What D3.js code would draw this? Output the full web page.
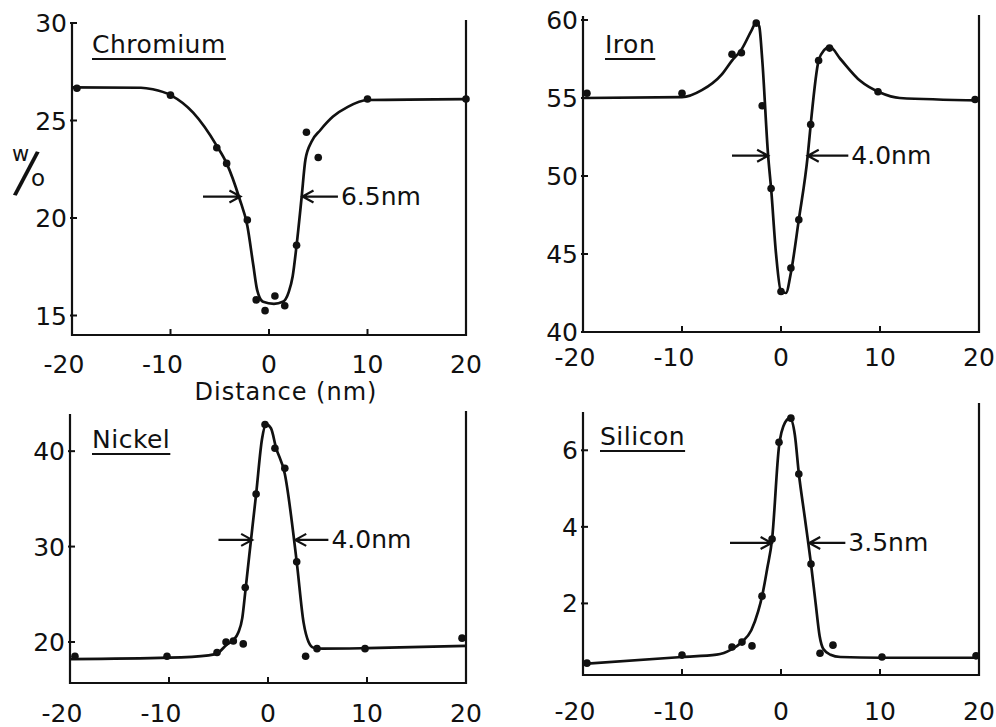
<!DOCTYPE html>
<html>
<head>
<meta charset="utf-8">
<script src="https://cdn.jsdelivr.net/npm/d3@7"></script>
<style>
  body { margin: 0; background: #fff; }
  svg { display: block; }
  text { font-family: "DejaVu Sans", sans-serif; fill: #111; }
</style>
</head>
<body>
<div id="chart"></div>
<script>
// x ticks shared by all four profiles (distance, nm)
const xTicks = [-20, -10, 0, 10, 20];

// Chromium
const crTicks = [15, 20, 25, 30];
const crDots = [[-19.5, 26.65], [-10, 26.3], [-5.3, 23.6], [-4.3, 22.8], [-2.2, 19.9], [-1.3, 15.8], [-0.4, 15.25],
  [0.6, 16.0], [1.6, 15.5], [2.8, 18.6], [3.8, 24.4], [5.0, 23.1], [10, 26.1], [20, 26.1]];
const crCurve = [[-20, 26.7], [-13, 26.68], [-11.8, 26.6], [-10, 26.3], [-7.7, 25.4], [-5.3, 23.7], [-4.3, 22.8],
  [-3, 21.0], [-2.2, 19.6], [-1.6, 17.6], [-1.2, 16.3], [-0.6, 15.7], [0.5, 15.6], [1.4, 15.7], [2.0, 16.2],
  [2.4, 17.0], [2.8, 18.6], [3.3, 21.0], [3.7, 23.0], [4.3, 23.9], [5.2, 24.5], [6.5, 25.2], [8, 25.7], [10, 26.05], [20, 26.1]];
const crWidth = { y: 21.1, left: [-6.7, -2.9], right: [3.4, 7.0], label: "6.5nm" };

// Iron
const feTicks = [40, 45, 50, 55, 60];
const feDots = [[-19.6, 55.3], [-10, 55.3], [-4.95, 57.8], [-4.0, 57.9], [-2.5, 59.8], [-1.9, 54.5], [-1.0, 49.2],
  [0, 42.6], [1.0, 44.1], [1.8, 47.2], [3.0, 53.3], [3.8, 57.4], [4.9, 58.2], [9.8, 55.4], [19.6, 54.9]];
const feCurve = [[-20, 55.0], [-10, 55.05], [-8, 55.5], [-6, 56.5], [-4.95, 57.4], [-4, 58.1], [-3, 59.3], [-2.5, 59.85],
  [-2.2, 59.6], [-1.9, 57.5], [-1.3, 51.3], [-1, 49.2], [-0.5, 45], [0, 42.6], [0.5, 42.5], [1, 43.8], [1.8, 47.2],
  [2.7, 51.3], [3, 53.3], [3.8, 57.4], [4.4, 58.1], [4.9, 58.3], [6, 57.5], [8, 56.1], [10, 55.35], [12, 55.0], [20, 54.85]];
const feWidth = { y: 51.3, left: [-4.95, -1.3], right: [2.7, 6.8], label: "4.0nm" };

// Nickel
const niTicks = [20, 30, 40];
const niDots = [[-19.5, 18.5], [-10.2, 18.5], [-5.15, 18.9], [-4.24, 20.0], [-3.5, 20.1], [-2.5, 19.8], [-2.3, 25.7],
  [-1.2, 35.5], [-0.3, 42.8], [0.7, 40.3], [1.7, 38.2], [2.9, 28.4], [3.8, 18.5], [4.95, 19.3], [9.8, 19.3], [19.6, 20.4]];
const niCurve = [[-20, 18.2], [-10, 18.35], [-6, 18.6], [-5, 18.9], [-4.2, 19.7], [-3.5, 20.2], [-3, 21], [-2.6, 22.5],
  [-2.3, 25.2], [-1.9, 29], [-1.2, 35.5], [-0.6, 41.3], [-0.2, 42.8], [0.3, 42.4], [0.8, 40.4], [1.7, 37.6],
  [2.9, 28.4], [3.6, 22], [4.1, 20], [4.6, 19.4], [5.5, 19.3], [10, 19.35], [20, 19.6]];
const niWidth = { y: 30.7, left: [-5.0, -1.6], right: [2.75, 6.1], label: "4.0nm" };

// Silicon
const siTicks = [2, 4, 6];
const siDots = [[-19.6, 0.44], [-10, 0.65], [-4.95, 0.86], [-3.94, 0.99], [-2.93, 0.89], [-1.92, 2.19], [-0.9, 3.68],
  [-0.2, 6.21], [1.0, 6.84], [1.8, 5.38], [3.03, 3.03], [3.94, 0.7], [5.25, 0.91], [10.2, 0.6], [19.7, 0.63]];
const siCurve = [[-20, 0.42], [-10, 0.6], [-6.5, 0.66], [-5, 0.8], [-4, 0.98], [-3, 1.3], [-2.3, 1.8], [-1.9, 2.2],
  [-1.4, 2.9], [-0.9, 3.68], [-0.2, 6.1], [0.4, 6.72], [0.9, 6.84], [1.4, 6.4], [1.8, 5.4], [2.4, 4.25], [3.03, 3.03],
  [3.5, 2.0], [3.9, 1.15], [4.3, 0.8], [5, 0.66], [6, 0.6], [10, 0.58], [20, 0.58]];
const siWidth = { y: 3.58, left: [-5.15, -0.95], right: [2.85, 6.5], label: "3.5nm" };

// panel layout (pixels)
const panels = [
  { name: "Chromium", ticks: crTicks, dots: crDots, curve: crCurve, fwhm: crWidth, domain: [14, 30],
    x: [72, 466], y: [335, 23], leftTop: 23, rightTop: 20, labelDy: 38, titleX: 92, titleY: 53 },
  { name: "Iron", ticks: feTicks, dots: feDots, curve: feCurve, fwhm: feWidth, domain: [40, 60],
    x: [583, 979], y: [332, 20], leftTop: 16, rightTop: 15, labelDy: 34, titleX: 605, titleY: 53 },
  { name: "Nickel", ticks: niTicks, dots: niDots, curve: niCurve, fwhm: niWidth, domain: [15.7, 44],
    x: [70, 466], y: [683, 413], leftTop: 414, rightTop: 411, labelDy: 39, titleX: 92, titleY: 448 },
  { name: "Silicon", ticks: siTicks, dots: siDots, curve: siCurve, fwhm: siWidth, domain: [0.13, 7],
    x: [583, 979], y: [675, 412], leftTop: 412, rightTop: 403, labelDy: 45, titleX: 600, titleY: 445 }
];

const svg = d3.select("#chart").append("svg")
  .attr("width", 996)
  .attr("height", 727);

panels.forEach(p => {
  const x = d3.scaleLinear().domain([-20, 20]).range(p.x);
  const y = d3.scaleLinear().domain(p.domain).range(p.y);
  const g = svg.append("g");
  const bottom = p.y[0];

  // frame: left, bottom, right
  g.append("path")
    .attr("d", `M${p.x[0]},${p.leftTop} V${bottom} H${p.x[1]} V${p.rightTop}`)
    .attr("fill", "none")
    .attr("stroke", "#111")
    .attr("stroke-width", 2.2);

  // x ticks (inward) and labels
  g.selectAll(".xt").data(xTicks).enter().append("line")
    .attr("x1", d => x(d)).attr("x2", d => x(d))
    .attr("y1", bottom).attr("y2", bottom - 6)
    .attr("stroke", "#111").attr("stroke-width", 2);
  g.selectAll(".xl").data(xTicks).enter().append("text")
    .attr("x", d => x(d) - (d < 0 ? 8 : 0))
    .attr("y", bottom + p.labelDy)
    .attr("text-anchor", "middle")
    .attr("font-size", 25)
    .text(d => d < 0 ? "-" + Math.abs(d) : d);

  // y ticks and labels
  g.selectAll(".yt").data(p.ticks).enter().append("line")
    .attr("x1", p.x[0] - 2).attr("x2", p.x[0] + 5)
    .attr("y1", d => y(d)).attr("y2", d => y(d))
    .attr("stroke", "#111").attr("stroke-width", 2);
  g.selectAll(".yl").data(p.ticks).enter().append("text")
    .attr("x", p.x[0] - 5)
    .attr("y", d => y(d) + 9)
    .attr("text-anchor", "end")
    .attr("font-size", 25)
    .text(d => d);

  // fitted curve
  g.append("path")
    .datum(p.curve)
    .attr("d", d3.line().x(d => x(d[0])).y(d => y(d[1])).curve(d3.curveMonotoneX))
    .attr("fill", "none")
    .attr("stroke", "#111")
    .attr("stroke-width", 2.7);

  // measured points
  g.selectAll(".dot").data(p.dots).enter().append("circle")
    .attr("cx", d => x(d[0]))
    .attr("cy", d => y(d[1]))
    .attr("r", 3.8)
    .attr("fill", "#111");

  // title with underline
  const title = g.append("text")
    .attr("x", p.titleX)
    .attr("y", p.titleY)
    .attr("font-size", 25)
    .attr("letter-spacing", 0.5)
    .text(p.name);
  const tw = title.node().getComputedTextLength();
  g.append("line")
    .attr("x1", p.titleX).attr("x2", p.titleX + tw)
    .attr("y1", p.titleY + 6).attr("y2", p.titleY + 6)
    .attr("stroke", "#111").attr("stroke-width", 2);

  // width arrows
  const ay = y(p.fwhm.y);
  const arrow = (from, to) => {
    const dir = Math.sign(to - from);
    g.append("path")
      .attr("d", `M${from},${ay} H${to} M${to - dir * 11},${ay - 6} L${to},${ay} L${to - dir * 11},${ay + 6}`)
      .attr("fill", "none")
      .attr("stroke", "#111")
      .attr("stroke-width", 2.2);
  };
  arrow(x(p.fwhm.left[0]), x(p.fwhm.left[1]));
  arrow(x(p.fwhm.right[1]), x(p.fwhm.right[0]));
  g.append("text")
    .attr("x", x(p.fwhm.right[1]) + 3)
    .attr("y", ay + 8)
    .attr("font-size", 25)
    .text(p.fwhm.label);
});

// axis labels
svg.append("text")
  .attr("x", 286)
  .attr("y", 400)
  .attr("text-anchor", "middle")
  .attr("font-size", 24)
  .attr("letter-spacing", 1)
  .text("Distance (nm)");

// "w/o" unit label, long slanted slash
const wo = svg.append("g");
wo.append("text").attr("x", 12).attr("y", 161).attr("font-size", 21).text("w");
wo.append("text")
  .attr("transform", "translate(27,171) rotate(14) scale(0.8,1)")
  .attr("text-anchor", "middle")
  .attr("y", 21)
  .attr("font-family", "Liberation Sans, sans-serif")
  .attr("font-size", 58)
  .text("/");
wo.append("text").attr("x", 31).attr("y", 186).attr("font-size", 23).text("o");
</script>
</body>
</html>
